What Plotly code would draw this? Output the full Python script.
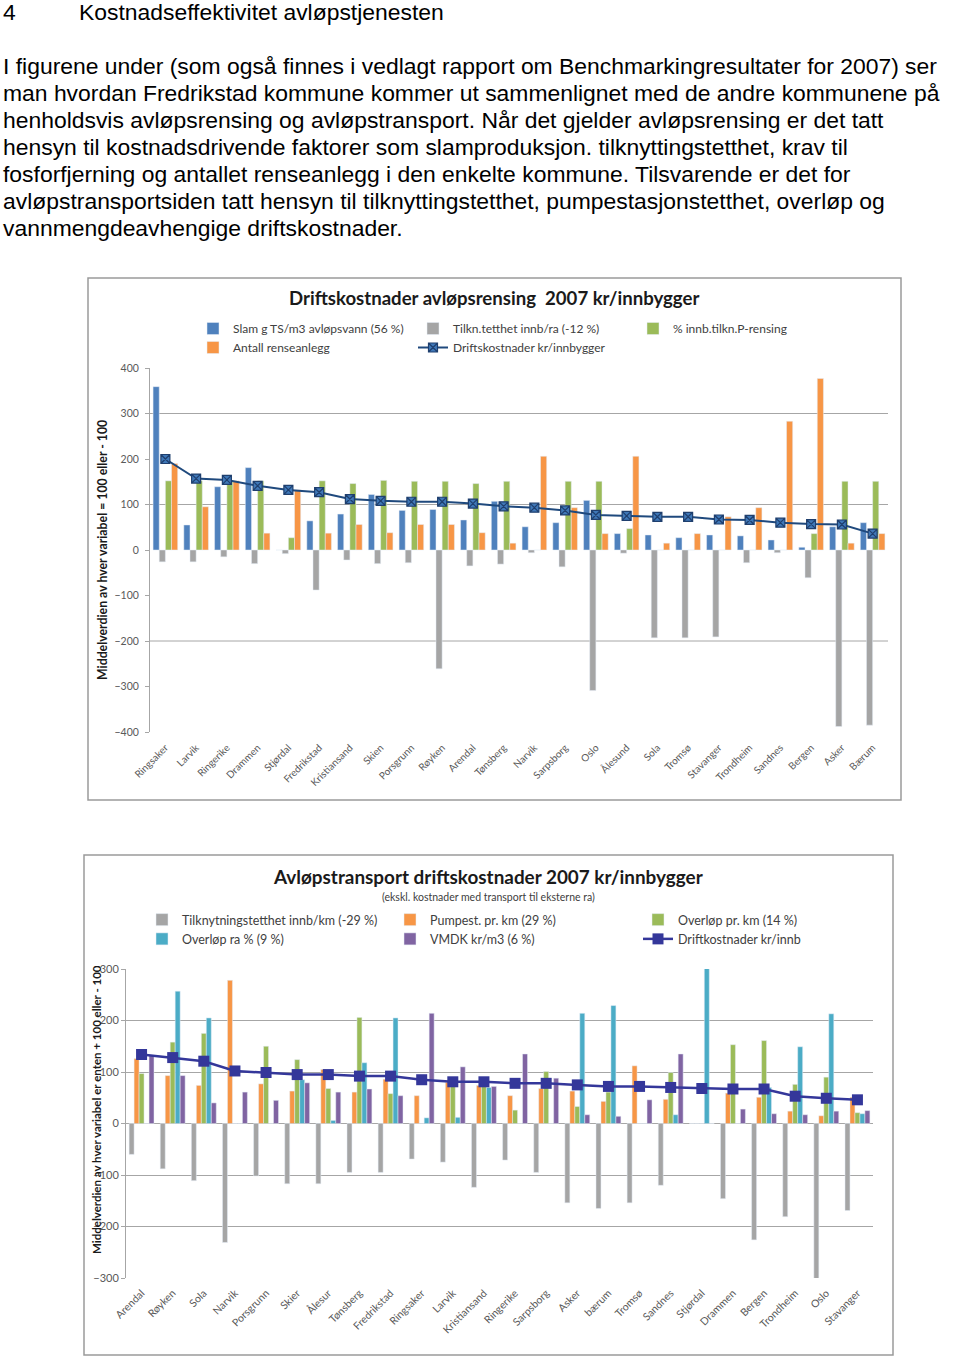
import plotly.graph_objects as go

# ---------------- data: chart 1 (avløpsrensing) ----------------
cats_top = ["Ringsaker", "Larvik", "Ringerike", "Drammen", "Stjørdal", "Fredrikstad",
            "Kristiansand", "Skien", "Porsgrunn", "Røyken", "Arendal", "Tønsberg",
            "Narvik", "Sarpsborg", "Oslo", "Ålesund", "Sola", "Tromsø", "Stavanger",
            "Trondheim", "Sandnes", "Bergen", "Asker", "Bærum"]
slam = [359, 55, 139, 181, 0, 64, 79, 122, 87, 89, 66, 107, 51, 60, 109, 36, 33, 27, 33, 31, 22, 6, 51, 60]
tilkn = [-26, -26, -15, -30, -8, -88, -22, -30, -28, -261, -35, -31, -6, -37, -309, -7, -193, -193, -191,
         -28, -6, -61, -388, -385]
p_rens = [152, 152, 152, 152, 27, 152, 146, 153, 151, 151, 146, 151, 0, 151, 151, 47, 0, 0, 0, 0, 0, 36, 151, 151]
antall = [190, 95, 152, 37, 132, 37, 56, 38, 56, 56, 38, 15, 206, 93, 36, 206, 15, 36, 73, 93, 283, 377, 15, 36]
drift_top = [200, 157, 154, 141, 132, 127, 112, 108, 106, 106, 102, 96, 93, 87, 77, 75, 73, 73, 67, 66, 60, 57, 56, 36]
yticks_top = [400, 300, 200, 100, 0, -100, -200, -300, -400]
visible_grid_top = [300, 100, -200]

# ---------------- data: chart 2 (avløpstransport) ----------------
cats_bot = ["Arendal", "Røyken", "Sola", "Narvik", "Porsgrunn", "Skier", "Ålesur", "Tønsberg",
            "Fredrikstad", "Ringsaker", "Larvik", "Kristiansand", "Ringerike", "Sarpsborg", "Asker",
            "bærum", "Tromsø", "Sandnes", "Stjørdal", "Drammen", "Bergen", "Trondheim", "Oslo", "Stavanger"]
tilk_km = [-60, -88, -111, -231, -102, -117, -117, -95, -95, -69, -75, -124, -71, -95, -154, -165, -154,
           -120, 0, -146, -226, -181, -305, -169]
pumpest = [126, 93, 74, 278, 77, 63, 105, 61, 86, 54, 80, 74, 54, 68, 63, 43, 112, 47, 0, 59, 51, 24, 15, 51]
overlop_km = [97, 158, 175, 0, 150, 124, 68, 206, 58, 0, 74, 74, 26, 101, 33, 61, 0, 99, 0, 153, 161, 76, 90, 21]
overlop_ra = [0, 257, 205, 0, 0, 85, 6, 118, 205, 11, 12, 70, 0, 0, 214, 229, 0, 17, 303, 0, 70, 149, 213, 19]
vmdk = [132, 93, 40, 61, 45, 79, 61, 67, 54, 214, 110, 72, 135, 88, 17, 14, 46, 135, 0, 28, 19, 17, 24, 25]
drift_bot = [134, 128, 121, 102, 99, 95, 95, 92, 92, 85, 81, 81, 78, 78, 75, 72, 72, 70, 68, 67, 67, 53, 49, 46]
yticks_bot = [300, 200, 100, 0, -100, -200, -300]

# ---------------- page text ----------------
heading_num = "4"
heading = "Kostnadseffektivitet avløpstjenesten"
para = [
    "I figurene under (som også finnes i vedlagt rapport om Benchmarkingresultater for 2007) ser",
    "man hvordan Fredrikstad kommune kommer ut sammenlignet med de andre kommunene på",
    "henholdsvis avløpsrensing og avløpstransport. Når det gjelder avløpsrensing er det tatt",
    "hensyn til kostnadsdrivende faktorer som slamproduksjon. tilknyttingstetthet, krav til",
    "fosforfjerning og antallet renseanlegg i den enkelte kommune. Tilsvarende er det for",
    "avløpstransportsiden tatt hensyn til tilknyttingstetthet, pumpestasjonstetthet, overløp og",
    "vannmengdeavhengige driftskostnader.",
]

# ---------------- geometry helpers ----------------
W, H = 960, 1356
ML, MR = 60, 60
GW = W - ML - MR


def px(x):
    return (x - ML) / GW


def py(y):
    return 1 - y / H


CF = "Lato, 'Open Sans', sans-serif"
TF = "'Liberation Sans', Arial, sans-serif"
TXT = 22.9
n_top = len(cats_top)
n_bot = len(cats_bot)

fig = go.Figure()

# chart 1 traces
fig.add_trace(go.Bar(x=cats_top, y=slam, name="Slam g TS/m3 avløpsvann (56 %)",
                     marker_color="#4F81BD", xaxis="x", yaxis="y", legend="legend"))
fig.add_trace(go.Bar(x=cats_top, y=tilkn, name="Tilkn.tetthet innb/ra (-12 %)",
                     marker_color="#A5A5A5", xaxis="x", yaxis="y", legend="legend"))
fig.add_trace(go.Bar(x=cats_top, y=p_rens, name="% innb.tilkn.P-rensing",
                     marker_color="#9BBB59", xaxis="x", yaxis="y", legend="legend"))
fig.add_trace(go.Bar(x=cats_top, y=antall, name="Antall renseanlegg",
                     marker_color="#F79646", xaxis="x", yaxis="y", legend="legend"))
fig.add_trace(go.Scatter(x=cats_top, y=drift_top, name="Driftskostnader kr/innbygger",
                         mode="lines+markers", xaxis="x", yaxis="y", legend="legend",
                         line=dict(color="#1F497D", width=2),
                         marker=dict(symbol="square-x", size=9, color="#3F78B8",
                                     line=dict(color="#1F3F6E", width=1.2))))

# chart 2 traces
fig.add_trace(go.Bar(x=cats_bot, y=tilk_km, name="Tilknytningstetthet innb/km (-29 %)",
                     marker_color="#A5A5A5", xaxis="x2", yaxis="y2", legend="legend2"))
fig.add_trace(go.Bar(x=cats_bot, y=pumpest, name="Pumpest. pr. km (29 %)",
                     marker_color="#F79646", xaxis="x2", yaxis="y2", legend="legend2"))
fig.add_trace(go.Bar(x=cats_bot, y=overlop_km, name="Overløp pr. km (14 %)",
                     marker_color="#9BBB59", xaxis="x2", yaxis="y2", legend="legend2"))
fig.add_trace(go.Bar(x=cats_bot, y=overlop_ra, name="Overløp ra % (9 %)",
                     marker_color="#4BACC6", xaxis="x2", yaxis="y2", legend="legend2"))
fig.add_trace(go.Bar(x=cats_bot, y=vmdk, name="VMDK kr/m3 (6 %)",
                     marker_color="#8064A2", xaxis="x2", yaxis="y2", legend="legend2"))
fig.add_trace(go.Scatter(x=cats_bot, y=drift_bot, name="Driftkostnader kr/innb",
                         mode="lines+markers", xaxis="x2", yaxis="y2", legend="legend2",
                         line=dict(color="#34379A", width=2.5),
                         marker=dict(symbol="square", size=11, color="#34379A")))

# domains
top_xd = [px(150), px(888)]
top_yd = [py(732), py(368)]
bot_xd = [px(126), px(873)]
bot_yd = [py(1278), py(969)]
top_zero = top_yd[0] + (0 - (-400)) / 800 * (top_yd[1] - top_yd[0])
bot_zero = bot_yd[0] + (0 - (-300)) / 600 * (bot_yd[1] - bot_yd[0])

AX = "#A6A6A6"
TICKC = "#595959"

fig.update_layout(
    width=W, height=H,
    margin=dict(l=ML, r=MR, t=0, b=0, pad=0, autoexpand=False),
    paper_bgcolor="white", plot_bgcolor="white",
    barmode="group", bargap=0.2, bargroupgap=0,
    font=dict(family=CF, color="#404040"),
    xaxis=dict(domain=top_xd, anchor="y", type="category", tickangle=-45,
               range=[-0.5, n_top - 0.5], ticklabelstandoff=7,
               tickfont=dict(size=10, color=TICKC), showline=False, ticks="",
               showgrid=False, zeroline=False),
    yaxis=dict(domain=top_yd, anchor="x", range=[-400, 400], tickvals=yticks_top,
               showgrid=False, zeroline=False, showline=True, linecolor=AX,
               ticks="outside", ticklen=4, tickcolor=AX, ticklabelstandoff=4,
               tickfont=dict(size=10.5, color=TICKC)),
    xaxis3=dict(overlaying="x", anchor="free", position=top_zero, range=[-0.5, n_top - 0.5],
                tickvals=[i - 0.5 for i in range(n_top + 1)], showticklabels=False,
                showline=True, linecolor=AX, ticks="outside", ticklen=4, tickcolor=AX,
                showgrid=False, zeroline=False),
    xaxis2=dict(domain=bot_xd, anchor="y2", type="category", tickangle=-45,
                range=[-0.5, n_bot - 0.5], ticklabelstandoff=6,
                tickfont=dict(size=10.5, color=TICKC), showline=False, ticks="",
                showgrid=False, zeroline=False),
    yaxis2=dict(domain=bot_yd, anchor="x2", range=[-300, 300], tickvals=yticks_bot,
                showgrid=True, gridcolor=AX, gridwidth=1, zeroline=False,
                showline=True, linecolor=AX, ticks="outside", ticklen=4, tickcolor=AX,
                tickfont=dict(size=11, color=TICKC)),
    xaxis4=dict(overlaying="x2", anchor="free", position=bot_zero, range=[-0.5, n_bot - 0.5],
                tickvals=[i - 0.5 for i in range(n_bot + 1)], showticklabels=False,
                showline=True, linecolor=AX, ticks="outside", ticklen=4, tickcolor=AX,
                showgrid=False, zeroline=False),
    legend=dict(x=px(193), y=py(314), xanchor="left", yanchor="top", orientation="h",
                entrywidth=175, entrywidthmode="pixels", itemwidth=30,
                bgcolor="rgba(0,0,0,0)", font=dict(size=12, color="#404040", family=CF)),
    legend2=dict(x=px(142), y=py(905), xanchor="left", yanchor="top", orientation="h",
                 entrywidth=203, entrywidthmode="pixels", itemwidth=30,
                 bgcolor="rgba(0,0,0,0)", font=dict(size=12.5, color="#404040", family=CF)),
)

shapes = []
for g in visible_grid_top:
    shapes.append(dict(type="line", xref="x domain", yref="y", x0=0, x1=1, y0=g, y1=g,
                       line=dict(color=AX, width=1), layer="below"))
shapes.append(dict(type="rect", xref="paper", yref="paper", x0=px(88), x1=px(901),
                   y0=py(800), y1=py(278), line=dict(color="#9A9A9A", width=1.5)))
shapes.append(dict(type="rect", xref="paper", yref="paper", x0=px(84), x1=px(893),
                   y0=py(1355), y1=py(855), line=dict(color="#9A9A9A", width=1.5)))
fig.update_layout(shapes=shapes)

ann = []
ann.append(dict(text=heading_num, x=px(1), y=py(12), xref="paper", yref="paper",
                xanchor="left", yanchor="middle", showarrow=False,
                font=dict(family=TF, size=TXT, color="#000")))
ann.append(dict(text=heading, x=px(77), y=py(12), xref="paper", yref="paper",
                xanchor="left", yanchor="middle", showarrow=False,
                font=dict(family=TF, size=TXT, color="#000")))
for i, line in enumerate(para):
    ann.append(dict(text=line, x=px(1), y=py(66 + 27 * i), xref="paper", yref="paper",
                    xanchor="left", yanchor="middle", showarrow=False,
                    font=dict(family=TF, size=TXT, color="#000")))
ann.append(dict(text="<b>Driftskostnader avløpsrensing\u00a0 2007 kr/innbygger</b>",
                x=px(494), y=py(298), xref="paper", yref="paper", xanchor="center",
                yanchor="middle", showarrow=False, font=dict(family=CF, size=18.6, color="#1a1a1a")))
ann.append(dict(text="<b>Avløpstransport driftskostnader 2007 kr/innbygger</b>",
                x=px(488), y=py(876), xref="paper", yref="paper", xanchor="center",
                yanchor="middle", showarrow=False, font=dict(family=CF, size=18.9, color="#1a1a1a")))
ann.append(dict(text="(ekskl. kostnader med transport til eksterne ra)",
                x=px(488), y=py(897), xref="paper", yref="paper", xanchor="center",
                yanchor="middle", showarrow=False, font=dict(family=CF, size=10.5, color="#404040")))
ann.append(dict(text="<b>Middelverdien av hver variabel = 100 eller - 100</b>",
                x=px(102), y=py(550), xref="paper", yref="paper", xanchor="center",
                yanchor="middle", textangle=-90, showarrow=False,
                font=dict(family=CF, size=12.3, color="#1a1a1a")))
ann.append(dict(text="<b>Middelverdien av hver variabel er enten + 100 eller - 100</b>",
                x=px(96), y=py(1110), xref="paper", yref="paper", xanchor="center",
                yanchor="middle", textangle=-90, showarrow=False,
                font=dict(family=CF, size=11.5, color="#1a1a1a")))
fig.update_layout(annotations=ann)

fig.write_html("out.html",
               config={"displayModeBar": False},
               post_script="document.body.style.margin='0px';"
                           "document.documentElement.style.overflow='hidden';")
